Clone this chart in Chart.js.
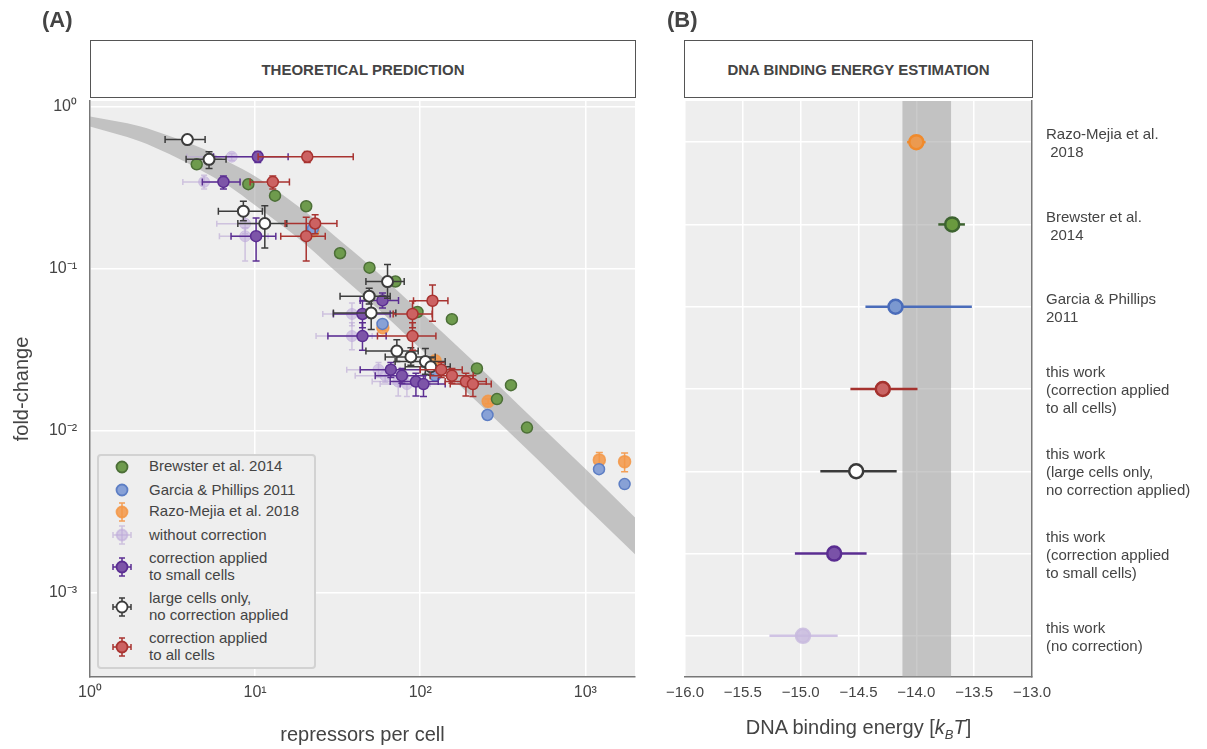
<!DOCTYPE html>
<html>
<head>
<meta charset="utf-8">
<script src="https://cdn.jsdelivr.net/npm/chart.js@4.4.0/dist/chart.umd.min.js"></script>
<style>
body{margin:0;width:1207px;height:749px;background:#fff;position:relative;overflow:hidden;font-family:"Liberation Sans",Arial,sans-serif;color:#444}
canvas{position:absolute;left:0;top:0}
.tag{position:absolute;top:8px;font-weight:bold;font-size:22px;line-height:24px}
.head{position:absolute;top:40px;height:58px;box-sizing:border-box;border:1.5px solid #555;background:#fff;display:flex;align-items:center;justify-content:center;font-weight:bold;font-size:15px}
#legend{position:absolute;left:97px;top:454px;width:219px;height:215px;box-sizing:border-box;border:2px solid #d2d2d2;border-radius:4px;background:#eeeeee}
.lrow{position:absolute;left:50px;font-size:15px;line-height:16.6px;white-space:nowrap}
.lmark{position:absolute;left:11px;width:24px;height:24px}
#xtitleB{position:absolute;left:685px;width:347px;top:716px;text-align:center;font-size:20px}
</style>
</head>
<body>
<canvas id="chartA" width="1207" height="749"></canvas>
<canvas id="chartB" width="1207" height="749"></canvas>
<div class="tag" style="left:42px">(A)</div>
<div class="tag" style="left:667px">(B)</div>
<div class="head" style="left:90px;width:546px">THEORETICAL PREDICTION</div>
<div class="head" style="left:684px;width:349px">DNA BINDING ENERGY ESTIMATION</div>
<div id="legend"></div>
<div id="xtitleB">DNA binding energy [<i>k<sub style="font-size:13px">B</sub>T</i>]</div>
<script>
// ---- panel A data ----
const theoryReps = [1, 2, 3, 5, 7, 10, 20, 30, 50, 100, 200, 500, 1000, 2000];
const theoryUpper = [0.866, 0.755, 0.66, 0.54, 0.45, 0.37, 0.225, 0.16, 0.103, 0.054, 0.028, 0.0114, 0.0058, 0.0029];
const theoryLower = [0.752, 0.61, 0.51, 0.39, 0.32, 0.245, 0.142, 0.098, 0.062, 0.032, 0.0165, 0.0068, 0.0034, 0.00172];

const brewsterReps = [4.43, 9.1, 13.2, 20.4, 32.7, 49.3, 70.8, 96.3, 155.6, 220.6, 291.7, 354.6, 443.3];
const brewsterFc = [0.439, 0.331, 0.281, 0.242, 0.124, 0.101, 0.083, 0.0538, 0.0486, 0.0241, 0.0156, 0.019, 0.0104];
const garciaReps = [22.4, 59.1, 123.2, 255.6, 1211, 1730];
const garciaFc = [0.176, 0.0454, 0.0218, 0.01244, 0.00576, 0.00466];
const razoReps = [22.4, 59.4, 123.2, 258, 1216, 1730];
const razoFc = [0.17, 0.043, 0.0269, 0.0151, 0.00657, 0.00641];
const razoFcLow = [0.165, 0.0415, 0.026, 0.0146, 0.0059, 0.00556];
const razoFcHigh = [0.175, 0.0445, 0.0278, 0.0156, 0.0073, 0.00725];

// rows: [reps, repsLow, repsHigh, foldChange, fcLow, fcHigh]
const noCorrection = [
  [7.22, 3.86, 11.03, 0.489, 0.464, 0.5125],
  [4.91, 3.65, 6.58, 0.342, 0.3086, 0.376],
  [8.7, 5.86, 12.33, 0.1885, 0.1637, 0.217],
  [8.7, 6.08, 11.99, 0.158, 0.1109, 0.178],
  [38.6, 25.7, 53.4, 0.0523, 0.0442, 0.0611],
  [38.6, 23.4, 51.2, 0.0382, 0.0315, 0.0461],
  [55.9, 35.9, 75.6, 0.0237, 0.0212, 0.0262],
  [61.4, 40.4, 84.6, 0.02176, 0.0198, 0.0238],
  [73.6, 51.2, 100, 0.02, 0.0163, 0.0225],
  [83.1, 57.2, 115, 0.0193, 0.0162, 0.0218]
];
const smallCells = [
  [10.38, 5.6, 15.85, 0.489, 0.451, 0.527],
  [6.43, 4.79, 8.11, 0.342, 0.3086, 0.372],
  [10.14, 7.15, 13.35, 0.158, 0.1109, 0.205],
  [59.1, 43.3, 73.9, 0.0634, 0.0569, 0.0704],
  [44.7, 29.8, 65.8, 0.0523, 0.043, 0.0628],
  [44.7, 27.6, 62.2, 0.0382, 0.0312, 0.0461],
  [66.4, 43.3, 100, 0.0237, 0.0212, 0.0262],
  [77.5, 53.4, 107.2, 0.02176, 0.0195, 0.0241],
  [94.2, 65.8, 128.6, 0.02, 0.0163, 0.0225],
  [104.7, 75.6, 141.7, 0.0193, 0.0162, 0.0218]
];
const largeCells = [
  [3.89, 2.85, 4.98, 0.624, 0.598, 0.651],
  [5.26, 3.82, 6.67, 0.471, 0.413, 0.525],
  [8.49, 5.99, 11.07, 0.2254, 0.1966, 0.2595],
  [11.45, 7.86, 15.56, 0.1893, 0.1338, 0.2439],
  [63.4, 46.9, 80, 0.0829, 0.0655, 0.1058],
  [49.1, 32.7, 65.8, 0.0674, 0.0602, 0.0754],
  [50.5, 29.8, 71.2, 0.0531, 0.0419, 0.0655],
  [72.2, 46.9, 97.2, 0.0309, 0.0266, 0.0363],
  [87.8, 61.4, 123.3, 0.0284, 0.0252, 0.0324],
  [107.5, 70.5, 141.7, 0.0266, 0.0222, 0.032],
  [115.9, 81.1, 152, 0.0247, 0.0219, 0.0281]
];
const allCells = [
  [20.7, 10.43, 39.3, 0.489, 0.451, 0.527],
  [12.8, 9.33, 16.14, 0.342, 0.3086, 0.372],
  [23.1, 15.2, 31.3, 0.1893, 0.1637, 0.214],
  [20.4, 14.3, 26.6, 0.158, 0.1109, 0.207],
  [118.7, 91.1, 147.2, 0.0631, 0.0472, 0.079],
  [89.8, 68.6, 118.2, 0.0523, 0.043, 0.0628],
  [89.8, 55.1, 124.5, 0.0382, 0.0312, 0.0461],
  [134.1, 100, 179.7, 0.0237, 0.0212, 0.0262],
  [155.7, 115, 209.5, 0.02176, 0.0195, 0.0241],
  [189.2, 141.7, 251.2, 0.02, 0.0163, 0.0225],
  [208.6, 152, 269.3, 0.0193, 0.0162, 0.0218]
];

// ---- panel B data ----
const energyCategories = [
  ['Razo-Mejia et al.', ' 2018'],
  ['Brewster et al.', ' 2014'],
  ['Garcia & Phillips', '2011'],
  ['this work', '(correction applied', 'to all cells)'],
  ['this work', '(large cells only,', 'no correction applied)'],
  ['this work', '(correction applied', 'to small cells)'],
  ['this work', '(no correction)']
];
const energyValues = [-14.0, -13.69, -14.18, -14.29, -14.52, -14.71, -14.98];
const energyLow = [-14.08, -13.81, -14.44, -14.57, -14.83, -15.05, -15.27];
const energyHigh = [-13.92, -13.58, -13.52, -13.99, -14.17, -14.43, -14.68];
const energyBand = [-14.12, -13.70];

const catKeys = energyCategories.map(c => c.join(' '));
const energyFill = ['#eb9a50', '#6a9a3f', '#7b98d0', '#c96464', '#ffffff', '#7a52a8', 'rgba(200,186,222,0.85)'];
const energyEdge = ['#f08a2c', '#3d6330', '#4a6cba', '#a5322e', '#3a3a3a', '#5a2d91', 'rgba(200,186,222,0.85)'];
const energyErr = ['#f08a2c', '#3d6330', '#4a6cba', '#a5322e', '#3a3a3a', '#5a2d91', 'rgba(208,195,228,1)'];

Chart.defaults.font.family = "'Liberation Sans', Arial, sans-serif";
Chart.defaults.color = '#444';

const supMap = {'0': '\u2070', '1': '\u00b9', '2': '\u00b2', '3': '\u00b3', '-': '\u207b'};
function decadeLabel(v){
  const e = Math.round(Math.log10(v));
  return '10' + String(e).split('').map(c => supMap[c]).join('');
}

const plotBackground = {
  id: 'plotBackground',
  beforeDraw(chart){
    const a = chart.chartArea, ctx = chart.ctx;
    ctx.save();
    ctx.fillStyle = '#eeeeee';
    ctx.fillRect(a.left, a.top, a.right - a.left, a.bottom - a.top);
    ctx.restore();
  }
};

const errorBars = {
  id: 'errorBars',
  beforeDatasetDraw(chart, args){
    const ds = chart.data.datasets[args.index];
    if (!ds.errorColor) return;
    const meta = chart.getDatasetMeta(args.index);
    const xs = chart.scales.x, ys = chart.scales.y, ctx = chart.ctx;
    const cap = ds.capSize || 0;
    ctx.save();
    ctx.strokeStyle = ds.errorColor;
    ctx.lineWidth = ds.errorWidth || 1.5;
    ds.data.forEach((p, i) => {
      const el = meta.data[i];
      const px = el.x, py = el.y;
      ctx.beginPath();
      if (p.xMin != null){
        const a = xs.getPixelForValue(p.xMin), b = xs.getPixelForValue(p.xMax);
        ctx.moveTo(a, py); ctx.lineTo(b, py);
        if (cap){
          ctx.moveTo(a, py - cap); ctx.lineTo(a, py + cap);
          ctx.moveTo(b, py - cap); ctx.lineTo(b, py + cap);
        }
      }
      if (p.yMin != null){
        const a = ys.getPixelForValue(p.yMin), b = ys.getPixelForValue(p.yMax);
        ctx.moveTo(px, a); ctx.lineTo(px, b);
        if (cap){
          ctx.moveTo(px - cap, a); ctx.lineTo(px + cap, a);
          ctx.moveTo(px - cap, b); ctx.lineTo(px + cap, b);
        }
      }
      ctx.stroke();
    });
    ctx.restore();
  }
};

const energyShade = {
  id: 'energyShade',
  beforeDatasetsDraw(chart){
    const a = chart.chartArea, xs = chart.scales.x, ctx = chart.ctx;
    const l = xs.getPixelForValue(energyBand[0]), r = xs.getPixelForValue(energyBand[1]);
    ctx.save();
    ctx.fillStyle = 'rgba(150,150,150,0.5)';
    ctx.fillRect(l, a.top, r - l, a.bottom - a.top);
    ctx.restore();
  }
};

function rowsToPoints(rows){
  return rows.map(r => ({x: r[0], xMin: r[1], xMax: r[2], y: r[3], yMin: r[4], yMax: r[5]}));
}
function pairPoints(xs, ys){
  return xs.map((x, i) => ({x: x, y: ys[i]}));
}

// bottom-to-top drawing order
const datasetsA = [
  {type: 'line', label: 'theory upper', data: pairPoints(theoryReps, theoryUpper), borderWidth: 0, borderColor: 'rgba(0,0,0,0)',
   pointRadius: 0, fill: '+1', backgroundColor: 'rgba(150,150,150,0.5)', cubicInterpolationMode: 'monotone'},
  {type: 'line', label: 'theory lower', data: pairPoints(theoryReps, theoryLower), borderWidth: 0, borderColor: 'rgba(0,0,0,0)',
   pointRadius: 0, fill: false, cubicInterpolationMode: 'monotone'},
  {label: 'Razo-Mejia et al. 2018', data: razoReps.map((x, i) => ({x: x, y: razoFc[i], yMin: razoFcLow[i], yMax: razoFcHigh[i]})),
   backgroundColor: 'rgba(243,150,70,0.85)', borderColor: 'rgba(243,150,70,0.85)', borderWidth: 1.5, pointRadius: 6,
   errorColor: 'rgba(243,150,70,0.9)', capSize: 3.5},
  {label: 'Garcia & Phillips 2011', data: pairPoints(garciaReps, garciaFc),
   backgroundColor: '#88a1d6', borderColor: '#5d7ec4', borderWidth: 1.5, pointRadius: 5.5},
  {label: 'Brewster et al. 2014', data: pairPoints(brewsterReps, brewsterFc),
   backgroundColor: '#6e9b4d', borderColor: '#4c6f37', borderWidth: 1.5, pointRadius: 5.5},
  {label: 'without correction', data: rowsToPoints(noCorrection),
   backgroundColor: 'rgba(190,170,218,0.55)', borderColor: 'rgba(190,170,218,0.55)', borderWidth: 1, pointRadius: 5.5,
   errorColor: 'rgba(185,165,212,0.6)', errorWidth: 1.5, capSize: 3},
  {label: 'correction applied to small cells', data: rowsToPoints(smallCells),
   backgroundColor: '#7d55a8', borderColor: '#5b2e92', borderWidth: 1.5, pointRadius: 5.5,
   errorColor: '#5b2e92', errorWidth: 1.5, capSize: 3.5},
  {label: 'large cells only, no correction applied', data: rowsToPoints(largeCells),
   backgroundColor: '#ffffff', borderColor: '#3c3c3c', borderWidth: 2, pointRadius: 5.5,
   errorColor: '#3c3c3c', errorWidth: 1.5, capSize: 3.5},
  {label: 'correction applied to all cells', data: rowsToPoints(allCells),
   backgroundColor: '#cc6262', borderColor: '#a83330', borderWidth: 1.5, pointRadius: 5.5,
   errorColor: '#a83330', errorWidth: 1.5, capSize: 3.5}
];
datasetsA.forEach((d, i) => { d.order = datasetsA.length - i; });

new Chart(document.getElementById('chartA'), {
  type: 'scatter',
  data: {datasets: datasetsA},
  options: {
    responsive: false,
    animation: false,
    layout: {padding: {left: 0, top: 101, right: 572, bottom: 0}},
    plugins: {legend: {display: false}, tooltip: {enabled: false}},
    scales: {
      x: {
        type: 'logarithmic', min: 1, max: 2000,
        afterBuildTicks: s => { s.ticks = [1, 10, 100, 1000].map(v => ({value: v})); },
        afterFit: s => { s.height = 72; },
        ticks: {callback: v => decadeLabel(v), font: {size: 16}, color: '#444', padding: 6, maxRotation: 0, autoSkip: false},
        grid: {color: '#ffffff', lineWidth: 1.5, drawTicks: false},
        border: {display: true, color: '#777', width: 1.5},
        title: {display: true, text: 'repressors per cell', font: {size: 20}, color: '#444', padding: {top: 0, bottom: 2}}
      },
      y: {
        type: 'logarithmic', min: 3.25e-4, max: 1.08,
        afterBuildTicks: s => { s.ticks = [0.001, 0.01, 0.1, 1].map(v => ({value: v})); },
        afterFit: s => { s.width = 90; },
        ticks: {callback: v => decadeLabel(v), font: {size: 16}, color: '#444', padding: 13, autoSkip: false},
        grid: {color: '#ffffff', lineWidth: 1.5, drawTicks: false},
        border: {display: true, color: '#777', width: 1.5},
        title: {display: true, text: 'fold-change', font: {size: 20}, color: '#444', padding: {top: 10, bottom: 0}}
      }
    }
  },
  plugins: [plotBackground, errorBars]
});

const datasetsB = energyValues.map((v, i) => ({
  label: catKeys[i],
  data: [{x: v, y: catKeys[i], xMin: energyLow[i], xMax: energyHigh[i]}],
  backgroundColor: energyFill[i], borderColor: energyEdge[i], borderWidth: 2.5, pointRadius: 7,
  errorColor: energyErr[i], errorWidth: 2.5, capSize: 0
}));

new Chart(document.getElementById('chartB'), {
  type: 'scatter',
  data: {datasets: datasetsB},
  options: {
    responsive: false,
    animation: false,
    layout: {padding: {left: 685, top: 101, right: 0, bottom: 0}},
    plugins: {legend: {display: false}, tooltip: {enabled: false}},
    scales: {
      x: {
        type: 'linear', min: -16, max: -13,
        afterFit: s => { s.height = 72; },
        ticks: {stepSize: 0.5, font: {size: 15}, color: '#444', padding: 7,
          callback: v => (v < 0 ? '\u2212' : '') + Math.abs(v).toFixed(1)},
        grid: {color: '#ffffff', lineWidth: 1.5, drawTicks: false},
        border: {display: true, color: '#777', width: 1.5}
      },
      y: {
        type: 'category', position: 'right', labels: catKeys, offset: true,
        afterFit: s => { s.width = 175; },
        ticks: {callback: (v, i) => energyCategories[i], font: {size: 15, lineHeight: 1.2}, color: '#444', padding: 14, labelOffset: 2},
        grid: {color: '#ffffff', lineWidth: 1.5, drawTicks: false, offset: false},
        border: {display: true, color: '#777', width: 1.5}
      }
    }
  },
  plugins: [plotBackground, energyShade, errorBars]
});

// ---- legend for panel A ----
const legendEntries = [
  {text: ['Brewster et al. 2014'], cy: 466.7, fill: '#6e9b4d', edge: '#4c6f37'},
  {text: ['Garcia & Phillips 2011'], cy: 490, fill: '#88a1d6', edge: '#5d7ec4'},
  {text: ['Razo-Mejia et al. 2018'], cy: 511.7, fill: 'rgba(243,150,70,0.85)', edge: 'rgba(243,150,70,0.85)', err: 'rgba(243,150,70,0.9)', ey: true},
  {text: ['without correction'], cy: 535, fill: 'rgba(190,170,218,0.55)', edge: 'rgba(190,170,218,0.55)', err: 'rgba(185,165,212,0.6)', ex: true, ey: true},
  {text: ['correction applied', 'to small cells'], cy: 567, fill: '#7d55a8', edge: '#5b2e92', err: '#5b2e92', ex: true, ey: true},
  {text: ['large cells only,', 'no correction applied'], cy: 606.7, fill: '#ffffff', edge: '#3c3c3c', err: '#3c3c3c', ex: true, ey: true},
  {text: ['correction applied', 'to all cells'], cy: 646.7, fill: '#cc6262', edge: '#a83330', err: '#a83330', ex: true, ey: true}
];
const legendBox = document.getElementById('legend');
legendEntries.forEach(e => {
  const top = e.cy - 454 - 2;
  let svg = '<svg class="lmark" style="top:' + (top - 12) + 'px" viewBox="-12 -12 24 24">';
  if (e.ex) svg += '<path d="M-9 0H9M-9 -3V3M9 -3V3" stroke="' + e.err + '" stroke-width="1.5" fill="none"/>';
  if (e.ey) svg += '<path d="M0 -9V9M-3 -9H3M-3 9H3" stroke="' + e.err + '" stroke-width="1.5" fill="none"/>';
  svg += '<circle r="5.5" fill="' + e.fill + '" stroke="' + e.edge + '" stroke-width="1.8"/></svg>';
  legendBox.insertAdjacentHTML('beforeend', svg);
  const h = e.text.length * 16.6;
  legendBox.insertAdjacentHTML('beforeend', '<div class="lrow" style="top:' + (top - h / 2) + 'px">' + e.text.join('<br>') + '</div>');
});
</script>
</body>
</html>
